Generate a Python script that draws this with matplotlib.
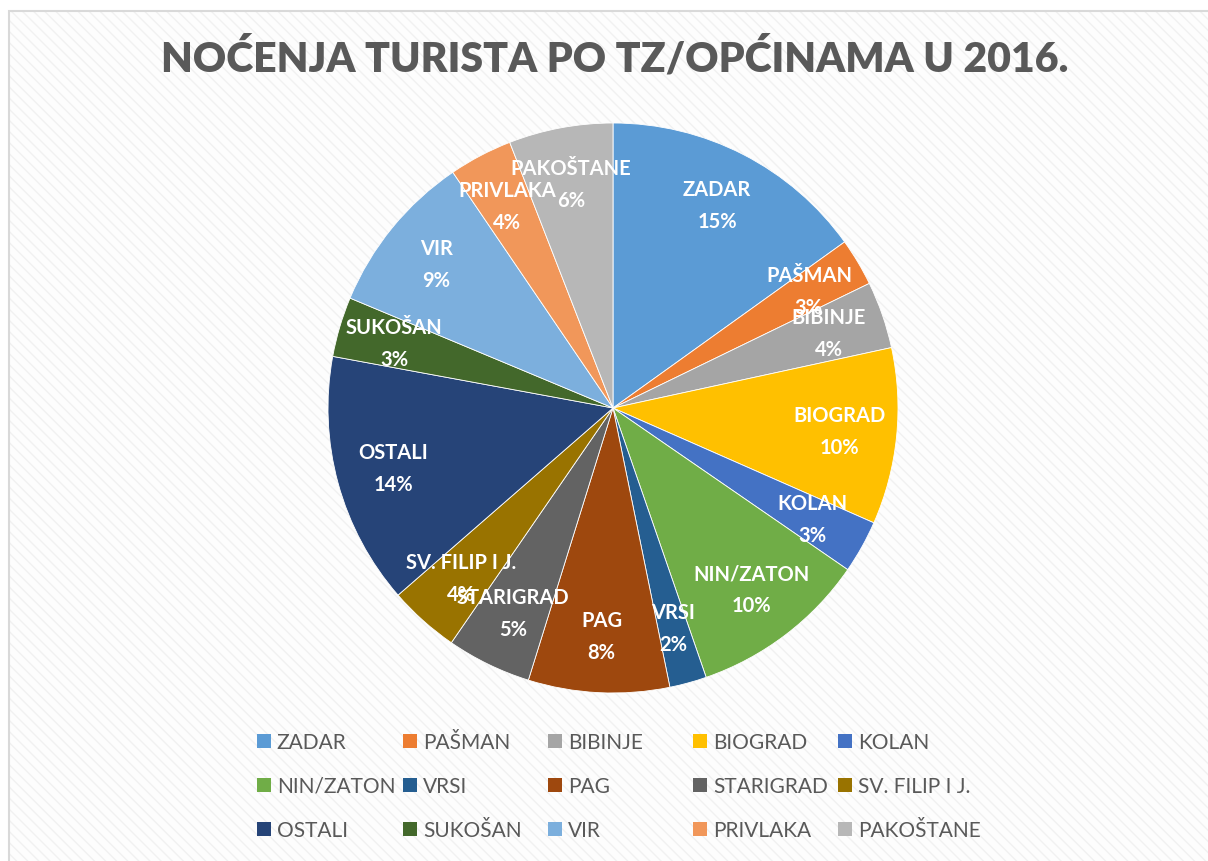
import matplotlib
matplotlib.use('Agg')
import matplotlib.pyplot as plt
from matplotlib.patches import Rectangle, Patch

# Data: share of overnight stays (%)
names = ['ZADAR', 'PAŠMAN', 'BIBINJE', 'BIOGRAD', 'KOLAN',
         'NIN/ZATON', 'VRSI', 'PAG', 'STARIGRAD', 'SV. FILIP I J.',
         'OSTALI', 'SUKOŠAN', 'VIR', 'PRIVLAKA', 'PAKOŠTANE']
shares = [15.1, 2.7, 3.8, 10.0, 3.0,
          10.1, 2.1, 8.0, 4.8, 4.0,
          14.3, 3.4, 9.2, 3.6, 5.9]
colors = ['#5B9BD5', '#ED7D31', '#A5A5A5', '#FFC000', '#4472C4',
          '#70AD47', '#255E91', '#9E480E', '#636363', '#997300',
          '#264478', '#43682B', '#7CAFDD', '#F1975A', '#B7B7B7']
title = 'NOĆENJA TURISTA PO TZ/OPĆINAMA U 2016.'

plt.rcParams['font.family'] = ['Lato', 'DejaVu Sans']

W, H = 1208, 862
fig = plt.figure(figsize=(W / 100, H / 100), dpi=100)
fig.patch.set_facecolor('white')

# chart area with faint diagonal texture and light border
bg = Rectangle((9 / W, 0), 1.0, 1 - 12 / H, transform=fig.transFigure,
               facecolor='#fdfdfd', edgecolor='#f1f1f1', hatch='\\\\\\',
               linewidth=0, zorder=0)
fig.add_artist(bg)
border = Rectangle((9 / W, -0.01), 1.1, 1 - 12 / H + 0.01, transform=fig.transFigure,
                   facecolor='none', edgecolor='#d9d9d9', linewidth=1.5, zorder=1)
fig.add_artist(border)

fig.text(615 / W, 1 - 58 / H, title, ha='center', va='center',
         fontsize=29.5, fontweight='heavy', color='#595959')

# pie
cx, cy, r = 613, 409, 285
ax = fig.add_axes([(cx - r) / W, (H - cy - r) / H, 2 * r / W, 2 * r / H])
total = sum(shares)
labels = ['{}\n{:.0f}%'.format(n, v / total * 100) for n, v in zip(names, shares)]
wedges, texts = ax.pie(shares, colors=colors, labels=labels, startangle=90,
                       counterclock=False, labeldistance=0.8, radius=1,
                       wedgeprops=dict(edgecolor='white', linewidth=0.6))
for t in texts:
    t.set_ha('center')
    t.set_va('center')
    t.set_color('white')
    t.set_fontweight('bold')
    t.set_fontsize(14.5)
    t.set_linespacing(1.75)
ax.set_xlim(-1, 1)
ax.set_ylim(-1, 1)

# legend: 5 columns, row-major like Excel
col_x = [257, 403, 548, 693, 838]
for c in range(5):
    idx = list(range(c, len(names), 5))
    handles = [Patch(facecolor=colors[i], edgecolor='none') for i in idx]
    leg = fig.legend(handles, [names[i] for i in idx], loc='upper left',
                     bbox_to_anchor=(col_x[c] / W, 1 - 733 / H),
                     frameon=False, fontsize=15, handlelength=0.65,
                     handleheight=0.65, handletextpad=0.3, labelspacing=1.15,
                     borderpad=0, borderaxespad=0)
    for t in leg.get_texts():
        t.set_color('#595959')

fig.savefig('out.png', dpi=100)
